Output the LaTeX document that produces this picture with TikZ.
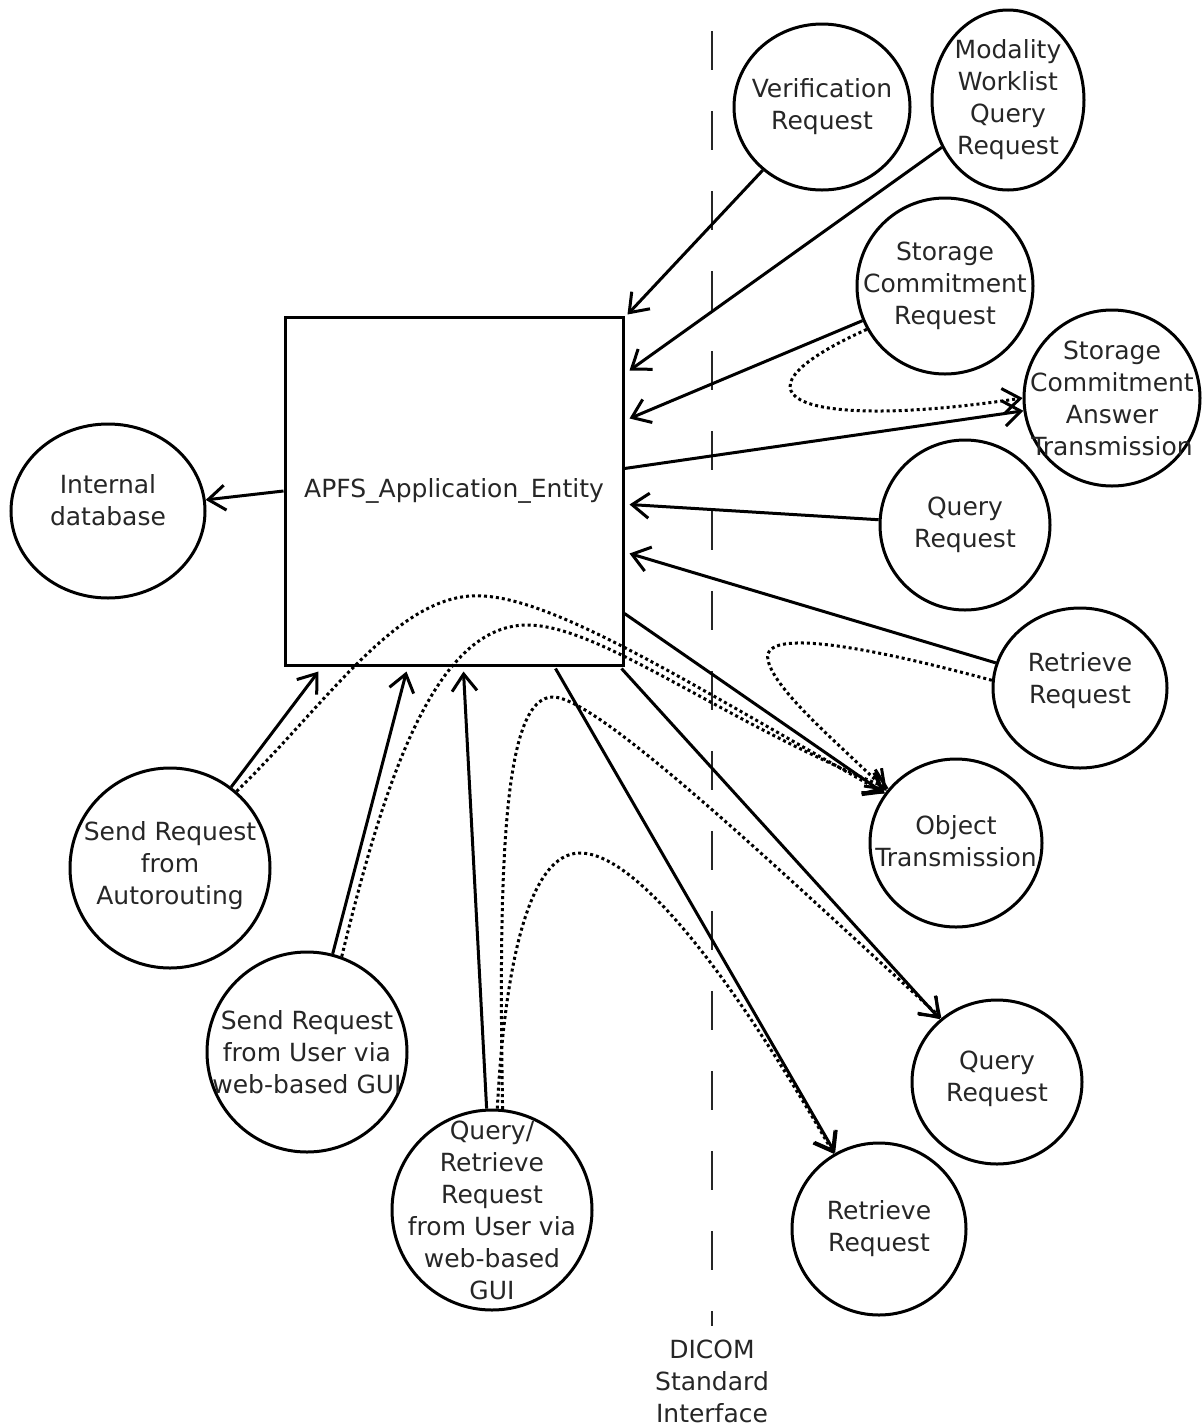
\documentclass[tikz,border=0pt]{standalone}
\usepackage{fontspec}
\setmainfont{DejaVu Sans}
\usetikzlibrary{arrows.meta,shapes.geometric,calc}
\begin{document}
\begin{tikzpicture}[x=1pt,y=-1pt,
  every node/.style={font=\fontsize{25}{32}\selectfont, text=black!85},
  circ/.style={draw=black, line width=3pt, ellipse, inner sep=0pt},
  lbl/.style={align=center, inner sep=0pt},
  conn/.style={line width=3pt, line join=round, -{Straight Barb[length=17pt,width=25pt]}},
  dotconn/.style={conn, dash pattern=on 3pt off 3pt},
  divider/.style={line width=2.2pt, draw=black!85, dash pattern=on 39pt off 41pt},
]
\useasboundingbox (0,0) rectangle (1203,1428);

% main box
\node[draw=black, line width=3pt, minimum width=338pt, minimum height=348pt, inner sep=0pt] (box) at (454,491) {APFS\_Application\_Entity};

% ellipses
\node[circ, minimum width=176pt, minimum height=166pt, label={[lbl]center:Verification\\Request}] (ver) at (822,107) {};
\node[circ, minimum width=152pt, minimum height=180pt, label={[lbl]center:Modality\\Worklist\\Query\\Request}] (mod) at (1008,100) {};
\node[circ, minimum width=176pt, minimum height=176pt, label={[lbl]center:Storage\\Commitment\\Request}] (scr) at (945,286) {};
\node[circ, minimum width=176pt, minimum height=176pt, label={[lbl]center:Storage\\Commitment\\Answer\\Transmission}] (sca) at (1112,398) {};
\node[circ, minimum width=170pt, minimum height=170pt, label={[lbl]center:Query\\Request}] (qup) at (965,525) {};
\node[circ, minimum width=174pt, minimum height=160pt, label={[lbl,yshift=7pt]center:Retrieve\\Request}] (rup) at (1080,688) {};
\node[circ, minimum width=172pt, minimum height=168pt, label={[lbl,yshift=2pt]center:Object\\Transmission}] (obj) at (956,843) {};
\node[circ, minimum width=170pt, minimum height=164pt, label={[lbl,yshift=3pt]center:Query\\Request}] (qlo) at (997,1082) {};
\node[circ, minimum width=174pt, minimum height=172pt, label={[lbl]center:Retrieve\\Request}] (rlo) at (879,1229) {};
\node[circ, minimum width=194pt, minimum height=174pt, label={[lbl,yshift=11pt]center:Internal\\database}] (db) at (108,511) {};
\node[circ, minimum width=200pt, minimum height=200pt, label={[lbl,yshift=2pt]center:Send Request\\from\\Autorouting}] (auto) at (170,868) {};
\node[circ, minimum width=200pt, minimum height=200pt, label={[lbl]center:Send Request\\from User via\\web-based GUI}] (user) at (307,1052) {};
\node[circ, minimum width=200pt, minimum height=200pt, label={[lbl]center:Query/\\Retrieve\\Request\\from User via\\web-based\\GUI}] (qr) at (492,1210) {};

% DICOM divider
\coordinate (dtop) at (712,31);
\coordinate (dbot) at (712,1326);
\draw[divider] (dtop) -- (dbot);
\node[lbl] (dicom) at (712,1381) {DICOM\\Standard\\Interface};

% solid connectors
\draw[conn] (ver) -- ($(box.north east)+(3,-1)$);
\draw[conn] (mod) -- ($(box.north east)+(5,55)$);
\draw[conn] (scr) -- ($(box.north east)+(5,103)$);
\draw[conn] ($(box.north east)+(0,153)$) -- (sca);
\draw[conn] (qup) -- ($(box.north east)+(5,189)$);
\draw[conn] (rup) -- ($(box.north east)+(5,238)$);
\draw[conn] ($(box.north east)+(0,298)$) -- (obj);
\draw[conn] ($(box.south east)+(-3,2)$) -- (qlo);
\draw[conn] ($(box.south west)+(272,2)$) -- (rlo);
\draw[conn] (box.west) -- (db);
\draw[conn] (auto) -- ($(box.south west)+(35,5)$);
\draw[conn] (user) -- ($(box.south west)+(123,5)$);
\draw[conn] (qr) -- ($(box.south west)+(180,5)$);

% dotted connectors
\draw[dotconn] (scr.209) .. controls (710,400) and (810,430) .. (sca.180);
\draw[dotconn] (rup.175) .. controls (880,650) and (760,625) .. (768,660) .. controls (774,690) and (840,745) .. (obj.143);
\draw[dotconn] (auto.49) .. controls (330,700) and (400,590) .. (483,596) .. controls (560,600) and (700,690) .. (obj.145);
\draw[dotconn] (user.70) .. controls (380,800) and (430,625) .. (527,625) .. controls (600,625) and (720,720) .. (obj.141);
\draw[dotconn] (qr.84) .. controls (498,850) and (505,697) .. (553,697) .. controls (600,697) and (800,890) .. (qlo.131);
\draw[dotconn] (qr.87) .. controls (505,960) and (530,853) .. (580,853) .. controls (640,853) and (740,990) .. (rlo.121);
\end{tikzpicture}
\end{document}
